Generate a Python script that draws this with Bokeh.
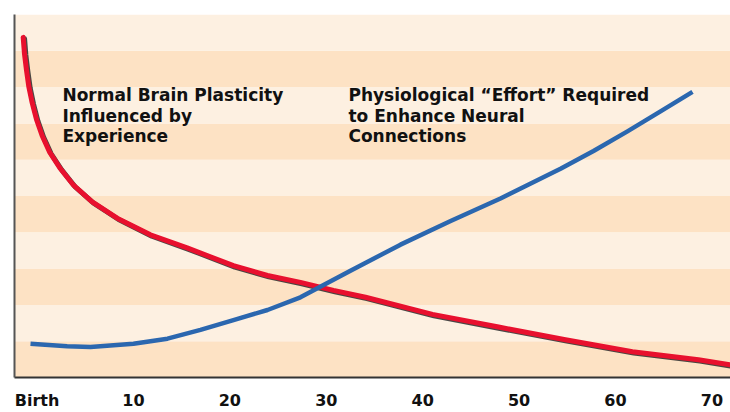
import numpy as np
from bokeh.plotting import figure
from bokeh.models import BoxAnnotation, FixedTicker, Range1d
from bokeh.core.properties import value
from bokeh.embed import file_html
from bokeh.resources import INLINE

# ---- data ----
ages_plasticity = [-1.44, -1.31, -1.10, -0.86, -0.51, -0.06, 0.53, 1.32, 2.43, 3.81,
                   5.72, 8.31, 11.76, 15.57, 20.37, 23.90, 27.32, 30.75, 34.07,
                   41.02, 47.87, 54.81, 61.76, 68.61, 71.93]
plasticity = [9.37, 8.93, 8.47, 8.02, 7.57, 7.11, 6.66, 6.20, 5.75, 5.29,
              4.84, 4.39, 3.93, 3.57, 3.08, 2.81, 2.62, 2.40, 2.21,
              1.74, 1.39, 1.04, 0.71, 0.49, 0.35]

ages_effort = [-0.68, 3.12, 5.54, 10.0, 13.53, 16.95, 20.37, 23.90, 27.32, 32.51,
               37.70, 42.90, 48.07, 54.30, 57.72, 61.24, 64.67, 67.99]
effort = [0.93, 0.86, 0.84, 0.93, 1.07, 1.31, 1.58, 1.86, 2.21, 2.94,
          3.66, 4.31, 4.93, 5.75, 6.24, 6.78, 7.33, 7.87]

tick_values = [0, 10, 20, 30, 40, 50, 60, 70]
tick_labels = ["Birth", "10", "20", "30", "40", "50", "60", "70"]
band_levels = list(range(10))

label_plasticity = "Normal Brain Plasticity\nInfluenced by\nExperience"
label_effort = "Physiological \u201cEffort\u201d Required\nto Enhance Neural\nConnections"
label_plasticity_pos = (2.63, 8.05)
label_effort_pos = (32.3, 8.05)

# ---- figure ----
p = figure(width=730, height=412, output_backend="svg", toolbar_location=None,
           x_range=Range1d(-2.34, 71.93), y_range=Range1d(0, 10),
           min_border_left=14, min_border_top=14, min_border_right=0, min_border_bottom=31)
p.background_fill_color = "#ffffff"
p.border_fill_color = "#ffffff"
p.outline_line_color = None
p.grid.visible = False

light = "#FDF0E1"
dark = "#FDE2C4"
for b in band_levels:
    p.add_layout(BoxAnnotation(bottom=b, top=b + 1,
                               fill_color=(dark if b % 2 == 0 else light),
                               fill_alpha=1.0, line_color=None, level="underlay"))

# red curve with dark shadow
px_per_x = 9.64
px_per_y = 36.7
sx = np.array(ages_plasticity) + 1.4 / px_per_x
sy = np.array(plasticity) - 1.4 / px_per_y
p.line(sx, sy, line_color="#2a2a2a", line_width=5, line_alpha=0.85,
       line_join="round", line_cap="round")
p.line(ages_plasticity, plasticity, line_color="#E8102E", line_width=5,
       line_join="round", line_cap="round")

# blue curve
p.line(ages_effort, effort, line_color="#2B67AF", line_width=4.5,
       line_join="round", line_cap="butt")

# annotations
for (x, y), t in [(label_plasticity_pos, label_plasticity), (label_effort_pos, label_effort)]:
    p.text(x=[x], y=[y], text=[t], text_font=value("DejaVu Sans"),
           text_font_style="bold", text_font_size="17px", text_color="#111111",
           text_align="left", text_baseline="top", text_line_height=1.03)

# axes
xa = p.xaxis[0]
xa.ticker = FixedTicker(ticks=tick_values)
xa.major_label_overrides = {v: l for v, l in zip(tick_values, tick_labels)}
xa.major_label_text_font = "DejaVu Sans"
xa.major_label_text_font_style = "bold"
xa.major_label_text_font_size = "16px"
xa.major_label_text_color = "#111111"
xa.major_label_standoff = 13
xa.major_tick_out = 0
xa.major_tick_in = 0
xa.minor_tick_out = 0
xa.minor_tick_in = 0
xa.major_tick_line_color = None
xa.minor_tick_line_color = None
xa.axis_line_color = "#333333"
xa.axis_line_width = 2

ya = p.yaxis[0]
ya.major_label_text_font_size = "0px"
ya.major_tick_out = 0
ya.major_tick_in = 0
ya.minor_tick_out = 0
ya.minor_tick_in = 0
ya.major_tick_line_color = None
ya.minor_tick_line_color = None
ya.axis_line_color = "#555555"
ya.axis_line_width = 2
ya.ticker = FixedTicker(ticks=[])

open("out.html", "w").write(file_html(p, INLINE))
